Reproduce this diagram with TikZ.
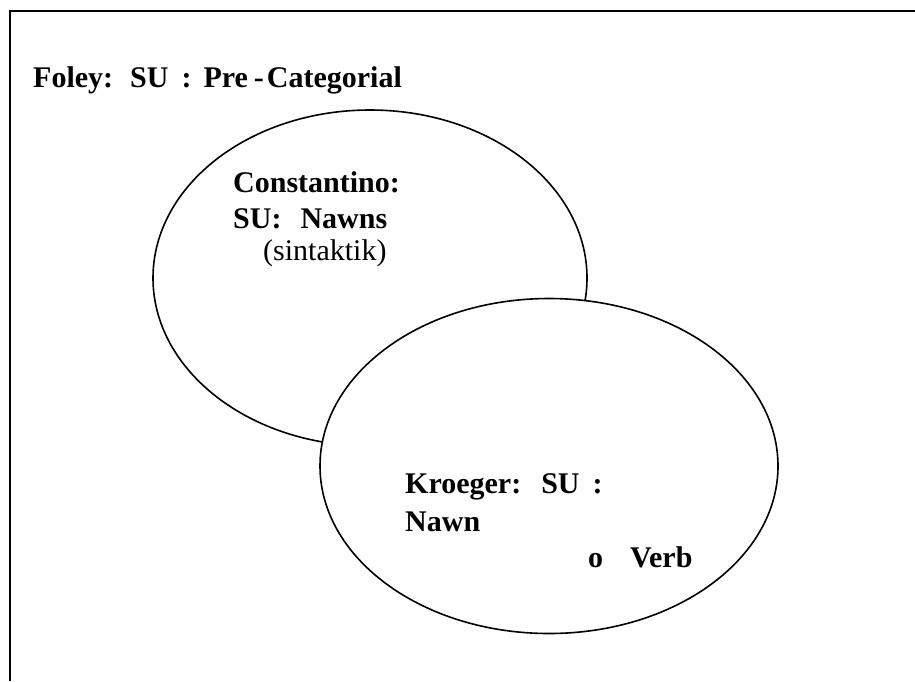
\documentclass[tikz,border=0pt]{standalone}
\usepackage{fontspec}
\setmainfont{Liberation Serif}
\usetikzlibrary{shapes.geometric}

\tikzset{
  field/.style={ellipse,draw=black,fill=white,line width=1.6pt,inner sep=0pt},
  lbl/.style={anchor=base west,inner sep=0pt,font=\fontsize{30}{36}\selectfont\bfseries},
  note/.style={anchor=base west,inner sep=0pt,font=\fontsize{30}{36}\selectfont}
}

\begin{document}
\begin{tikzpicture}[x=1pt,y=-1pt]
  \useasboundingbox (0,0) rectangle (915,681);
  %Frame
  \coordinate (topright) at (915,11);
  \coordinate (corner) at (10,11);
  \coordinate (bottomleft) at (10,681);
  \draw[line width=2.5pt] (topright) -- (corner) -- (bottomleft);

  %Sets
  \node at (370,278) [field,minimum width=434pt,minimum height=336pt] (constantino) {};
  \node at (549,466) [field,minimum width=458pt,minimum height=335pt] (kroeger) {};

  %Labels
  \node at (33,87) [lbl] (foley) {Foley:\hspace{17pt}SU\hspace{13pt}:\hspace{12pt}Pre\hspace{6pt}-\hspace{3pt}Categorial};
  \node at (233,192) [lbl] (const1) {Constantino:};
  \node at (233,228) [lbl] (const2) {SU:\hspace{19pt}Nawns};
  \node at (263,260) [note] (const3) {(sintaktik)};
  \node at (405,493) [lbl] (kroe1) {Kroeger:\hspace{20pt}SU\hspace{13pt}:};
  \node at (405,531) [lbl] (kroe2) {Nawn};
  \node at (588,567) [lbl] (kroe3) {o\hspace{27pt}Verb};
\end{tikzpicture}
\end{document}
